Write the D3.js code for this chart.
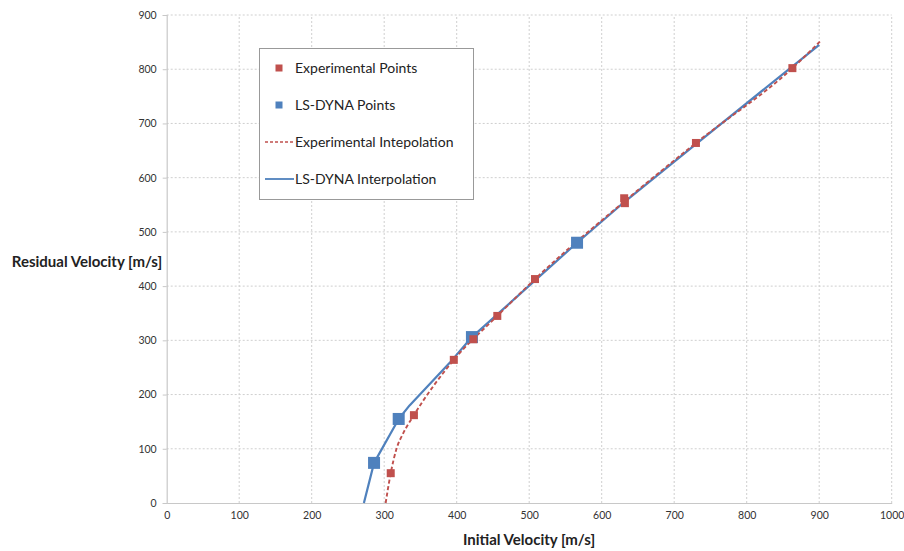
<!DOCTYPE html>
<html><head><meta charset="utf-8">
<script src="https://cdn.jsdelivr.net/npm/d3@7"></script>
<style>body{margin:0;background:#fff}svg{display:block}</style>
</head><body>
<script>
// ---- data ----
const expPoints = [[309,55],[341,162],[396,264],[423,302],[456,345],[508,413],[631,562],[632,553],[730,664],[863,802]];
const lsPoints = [[286,74],[320,155],[421,306],[566,480]];
const expCurve = [[302,0],[309,55],[317,100],[326,128],[341,162],[396,264],[456,345],[508,413],[632,557],[730,664],[863,802],[901,851]];
const lsCurve = [[272,0],[286,74],[320,155],[335,180],[390,258],[421,306],[566,480],[632,556],[730,662],[900,845]];
const xTicks = [0,100,200,300,400,500,600,700,800,900,1000];
const yTicks = [0,100,200,300,400,500,600,700,800,900];
const legendItems = ["Experimental Points","LS-DYNA Points","Experimental Intepolation","LS-DYNA Interpolation"];

const W=904,H=551;
const RED="#C0504D", BLUE="#4F81BD";
const svg=d3.select("body").append("svg").attr("width",W).attr("height",H);
const x=d3.scaleLinear().domain([0,1000]).range([166.7,891.7]);
const y=d3.scaleLinear().domain([0,900]).range([503,15]);
const font="Lato, 'Open Sans', sans-serif";

// grid
svg.append("g").selectAll("line").data(xTicks.slice(1)).join("line")
  .attr("x1",d=>x(d)).attr("x2",d=>x(d)).attr("y1",y(0)).attr("y2",y(900))
  .attr("stroke","#cfcfcf").attr("stroke-dasharray","2,2").attr("stroke-width",1);
svg.append("g").selectAll("line").data(yTicks.slice(1)).join("line")
  .attr("x1",x(0)).attr("x2",x(1000)).attr("y1",d=>y(d)).attr("y2",d=>y(d))
  .attr("stroke","#cfcfcf").attr("stroke-dasharray","2,2").attr("stroke-width",1);

// axes
const xAxis=d3.axisBottom(x).tickValues(xTicks).tickFormat(d3.format("d")).tickSize(0).tickPadding(9);
const gx=svg.append("g").attr("transform",`translate(0,${y(0)})`).call(xAxis);
const yAxis=d3.axisLeft(y).tickValues(yTicks).tickFormat(d3.format("d")).tickSize(4).tickPadding(6);
const gy=svg.append("g").attr("transform",`translate(${x(0)},0)`).call(yAxis);
[gx,gy].forEach(g=>{
  g.select(".domain").attr("stroke","#c8c8c8").attr("stroke-width",1.2);
  g.selectAll(".tick line").attr("stroke","#c8c8c8");
  g.selectAll("text").attr("font-family",font).attr("font-size",10.5).attr("fill","#333");
});

// titles
svg.append("text").attr("x",529).attr("y",545).attr("text-anchor","middle")
  .attr("font-family",font).attr("font-weight","bold").attr("font-size",15).attr("fill","#222")
  .text("Initial Velocity [m/s]");
svg.append("text").attr("x",87).attr("y",267).attr("text-anchor","middle")
  .attr("font-family",font).attr("font-weight","bold").attr("font-size",15).attr("fill","#222")
  .text("Residual Velocity [m/s]");

// lines
const expLine=d3.line().x(d=>x(d[0])).y(d=>y(d[1])).curve(d3.curveMonotoneX);
const lsLine=d3.line().x(d=>x(d[0])).y(d=>y(d[1])).curve(d3.curveLinear);
svg.append("path").datum(lsCurve).attr("d",lsLine).attr("fill","none")
  .attr("stroke",BLUE).attr("stroke-width",2.2).attr("stroke-linejoin","round");
svg.append("path").datum(expCurve).attr("d",expLine).attr("fill","none")
  .attr("stroke",RED).attr("stroke-width",1.9).attr("stroke-dasharray","4,2.5");

// points
svg.append("g").selectAll("rect").data(lsPoints).join("rect")
  .attr("x",d=>x(d[0])-6).attr("y",d=>y(d[1])-6).attr("width",12).attr("height",12).attr("fill",BLUE);
svg.append("g").selectAll("rect").data(expPoints).join("rect")
  .attr("x",d=>x(d[0])-4).attr("y",d=>y(d[1])-4).attr("width",8).attr("height",8).attr("fill",RED);

// legend
const lg=svg.append("g");
lg.append("rect").attr("x",259.5).attr("y",48.5).attr("width",214).attr("height",151)
  .attr("fill","#fff").attr("stroke","#999").attr("stroke-width",1);
const ly=[68,105,142,179];
legendItems.forEach((t,i)=>{
  if(i===0) lg.append("rect").attr("x",275.5).attr("y",ly[i]-3.5).attr("width",7).attr("height",7).attr("fill",RED);
  if(i===1) lg.append("rect").attr("x",275.5).attr("y",ly[i]-3.5).attr("width",7).attr("height",7).attr("fill",BLUE);
  if(i===2) lg.append("line").attr("x1",265).attr("x2",294).attr("y1",ly[i]).attr("y2",ly[i])
    .attr("stroke",RED).attr("stroke-width",1.5).attr("stroke-dasharray","3,2");
  if(i===3) lg.append("line").attr("x1",265).attr("x2",294).attr("y1",ly[i]).attr("y2",ly[i])
    .attr("stroke",BLUE).attr("stroke-width",1.8);
  lg.append("text").attr("x",295).attr("y",ly[i]+4.5).attr("font-family",font).attr("font-size",14)
    .attr("fill","#222").text(t);
});
</script>
</body></html>
